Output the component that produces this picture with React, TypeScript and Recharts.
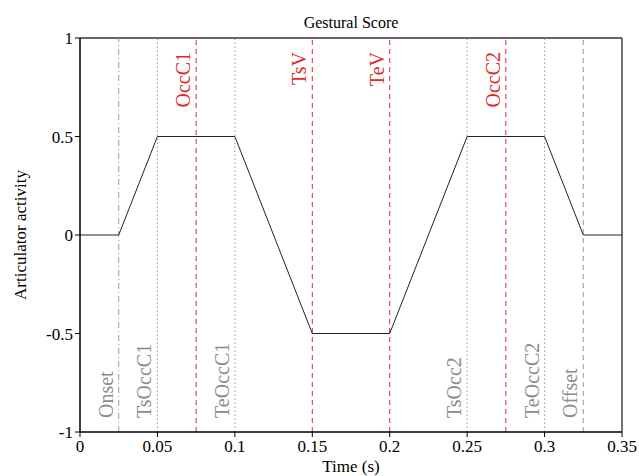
import { LineChart, Line, XAxis, YAxis, ReferenceLine } from 'recharts';

// trajectory of the gestural score
const times = [0, 0.025, 0.05, 0.1, 0.15, 0.2, 0.25, 0.3, 0.325, 0.35];
const activity = [0, 0, 0.5, 0.5, -0.5, -0.5, 0.5, 0.5, 0, 0];

// landmarks
const markTimes = [0.025, 0.05, 0.075, 0.1, 0.15, 0.2, 0.25, 0.275, 0.3, 0.325];
const markNames = ['Onset', 'TsOccC1', 'OccC1', 'TeOccC1', 'TsV', 'TeV', 'TsOcc2', 'OccC2', 'TeOccC2', 'Offset'];
const markKinds = ['dashdot', 'dot', 'red', 'dot', 'red', 'red', 'dot', 'red', 'dot', 'dash'];

const xTicks = [0, 0.05, 0.1, 0.15, 0.2, 0.25, 0.3, 0.35];
const yTicks = [-1, -0.5, 0, 0.5, 1];

const data = times.map((t, i) => ({ t, a: activity[i] }));

const FONT = '"Liberation Serif", "DejaVu Serif", serif';
const RED = '#e02a2a';
const GREY_LINE = '#9a9a9a';
const GREY_TEXT = '#8c8c8c';

const dashes: Record<string, string> = {
  dashdot: '6 3 1 3',
  dot: '1.5 2.5',
  red: '5 4',
  dash: '5 4',
};

function VLabel(props: any) {
  const { viewBox, text, red } = props;
  if (!viewBox) return null;
  const x = viewBox.x - 6;
  const y = red ? viewBox.y + 14 : viewBox.y + viewBox.height - 14;
  return (
    <text
      x={x}
      y={y}
      transform={`rotate(-90, ${x}, ${y})`}
      textAnchor={red ? 'end' : 'start'}
      fill={red ? RED : GREY_TEXT}
      fontSize={20}
      fontFamily={FONT}
    >
      {text}
    </text>
  );
}

function YLabel(props: any) {
  const { viewBox } = props;
  if (!viewBox) return null;
  const x = 26;
  const y = viewBox.y + viewBox.height / 2;
  return (
    <text x={x} y={y} transform={`rotate(-90, ${x}, ${y})`} textAnchor="middle" fill="#000" fontSize={17} fontFamily={FONT}>
      Articulator activity
    </text>
  );
}

export default function App() {
  return (
    <div style={{ position: 'absolute', left: 0, top: 0, background: '#fff' }}>
      <LineChart
        width={639}
        height={476}
        data={data}
        margin={{ top: 38, right: 17, left: 0, bottom: 0 }}
        style={{ fontFamily: FONT }}
      >
        <XAxis
          dataKey="t"
          type="number"
          domain={[0, 0.35]}
          ticks={xTicks}
          height={44}
          tickSize={5}
          tickMargin={3}
          stroke="#000"
          tick={{ fill: '#000', fontSize: 17, fontFamily: FONT }}
          axisLine={{ stroke: '#000', strokeWidth: 1.5 }}
          label={{ value: 'Time (s)', position: 'insideBottom', offset: 4, fill: '#000', fontSize: 17, fontFamily: FONT }}
        />
        <YAxis
          type="number"
          domain={[-1, 1]}
          ticks={yTicks}
          width={80}
          tickSize={5}
          tickMargin={2}
          stroke="#000"
          tick={{ fill: '#000', fontSize: 17, fontFamily: FONT }}
          axisLine={{ stroke: '#000', strokeWidth: 1.5 }}
          label={<YLabel />}
        />
        <ReferenceLine
          y={1}
          stroke="#333"
          strokeWidth={1.5}
          label={{ value: 'Gestural Score', position: 'top', offset: 10, fill: '#000', fontSize: 16, fontFamily: FONT }}
        />
        <ReferenceLine x={0.35} stroke="#444" strokeWidth={1.5} />
        {markTimes.map((mt, i) => (
          <ReferenceLine
            key={markNames[i]}
            x={mt}
            stroke={markKinds[i] === 'red' ? RED : GREY_LINE}
            strokeWidth={1}
            strokeDasharray={dashes[markKinds[i]]}
            label={<VLabel text={markNames[i]} red={markKinds[i] === 'red'} />}
          />
        ))}
        <Line
          dataKey="a"
          type="linear"
          stroke="#222"
          strokeWidth={1}
          dot={false}
          activeDot={false}
          isAnimationActive={false}
        />
      </LineChart>
    </div>
  );
}
